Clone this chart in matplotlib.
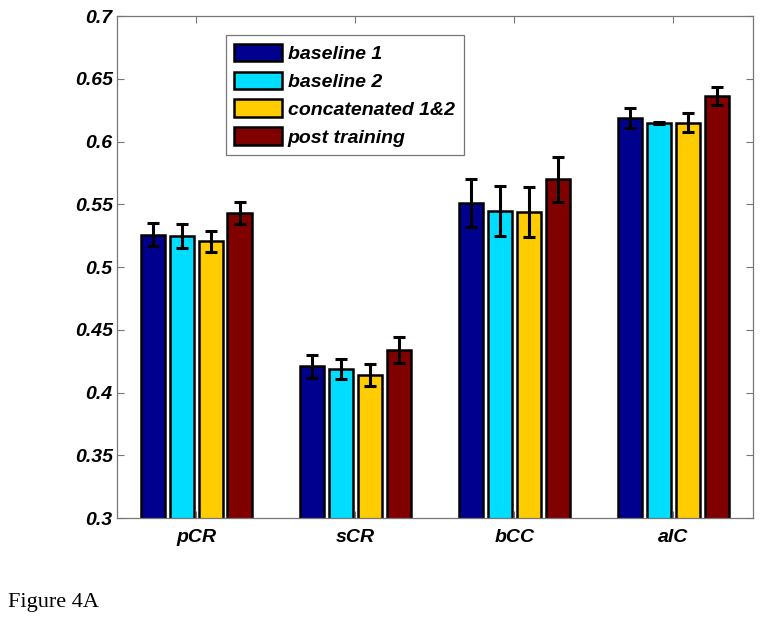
import numpy as np
import matplotlib
matplotlib.use("Agg")
import matplotlib.pyplot as plt

# ── values ──────────────────────────────────────────────────────────────────
regions = ["pCR", "sCR", "bCC", "aIC"]
series = ["baseline 1", "baseline 2", "concatenated 1&2", "post training"]

baseline1 = [0.526, 0.421, 0.551, 0.619]
baseline2 = [0.525, 0.419, 0.545, 0.6145]
concat12 = [0.5205, 0.414, 0.544, 0.615]
post_training = [0.543, 0.434, 0.570, 0.6365]

err_baseline1 = [0.009, 0.009, 0.019, 0.008]
err_baseline2 = [0.0095, 0.008, 0.020, 0.0008]
err_concat12 = [0.0087, 0.0085, 0.020, 0.0075]
err_post_training = [0.009, 0.0105, 0.018, 0.007]

colors = ["#00008F", "#00DDFF", "#FFCC00", "#800000"]

plt.rcParams["font.family"] = ["Liberation Sans", "DejaVu Sans"]

fig = plt.figure(figsize=(7.64, 6.22), dpi=100)
ax = fig.add_axes([0.153, 0.167, 0.8326, 0.807])

x = np.arange(1, len(regions) + 1)
values = [baseline1, baseline2, concat12, post_training]
errors = [err_baseline1, err_baseline2, err_concat12, err_post_training]
offsets = [-0.273, -0.091, 0.091, 0.273]
width = 0.155

for vals, errs, off, col, name in zip(values, errors, offsets, colors, series):
    ax.bar(x + off, vals, width=width, color=col, edgecolor="black",
           linewidth=1.8, label=name, zorder=2)
    ax.errorbar(x + off, vals, yerr=errs, fmt="none", ecolor="black",
                elinewidth=2.2, capsize=4.6, capthick=2.2, zorder=3)

ax.set_xlim(0.5, 4.5)
ax.set_ylim(0.3, 0.7)
ax.set_xticks(x)
ax.set_xticklabels(regions)
ax.set_yticks(np.arange(0.3, 0.701, 0.05))
ax.set_yticklabels(["0.3", "0.35", "0.4", "0.45", "0.5", "0.55", "0.6", "0.65", "0.7"])

for lab in ax.get_xticklabels() + ax.get_yticklabels():
    lab.set_fontweight("bold")
    lab.set_fontstyle("italic")
    lab.set_fontsize(14)

ax.tick_params(axis="both", direction="in", top=True, right=True,
               length=5, width=0.8, color="#777777")
ax.tick_params(axis="x", pad=8)
ax.tick_params(axis="y", pad=3)
for sp in ax.spines.values():
    sp.set_color("#777777")
    sp.set_linewidth(0.9)

leg = ax.legend(loc="upper left", bbox_to_anchor=(0.171, 0.962),
                borderaxespad=0,
                prop={"weight": "bold", "style": "italic", "size": 14},
                handlelength=2.45, handleheight=1.0, labelspacing=0.43,
                handletextpad=0.3, borderpad=0.45, fancybox=False,
                framealpha=1, edgecolor="#777777")
leg.get_frame().set_linewidth(0.9)

fig.text(0.01, 0.024, "Figure 4A", family="Liberation Serif", fontsize=16,
         va="baseline", ha="left")

fig.savefig("out.png", dpi=100)
